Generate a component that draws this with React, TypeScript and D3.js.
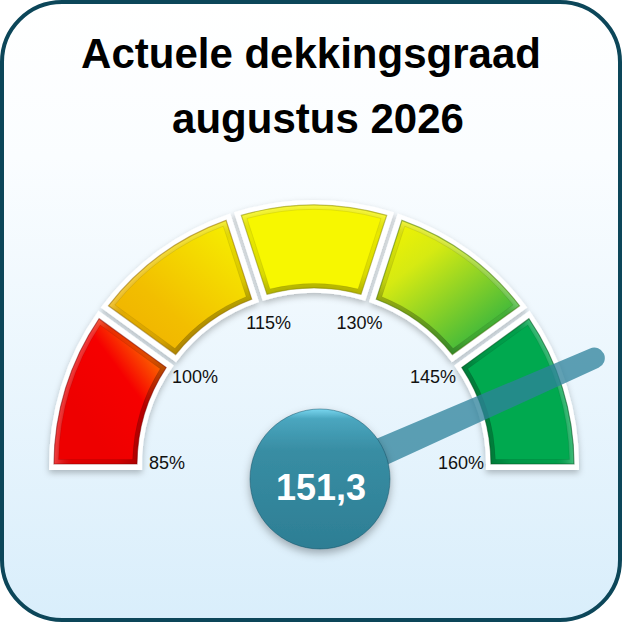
import React from "react";
import * as d3 from "d3";

const titleLines = ["Actuele dekkingsgraad", "augustus 2026"];
const bandBreaks = [85, 100, 115, 130, 145, 160];
const tickLabels = ["85%", "100%", "115%", "130%", "145%", "160%"];
const currentValue = 151.3;

const W = 622;
const H = 622;
const cx = 314;
const cy = 465;
const rOuter = 260;
const rInner = 177;
const halfGap = 8;
const border = 5;
const bevel = 4.5;
const pivot: [number, number] = [320, 479];
const knobR = 70;

const angle = d3.scaleLinear().domain([bandBreaks[0], bandBreaks[bandBreaks.length - 1]]).range([Math.PI, 0]);
const nl = d3.formatLocale({ decimal: ",", thousands: ".", grouping: [3], currency: ["€", ""] });
const fmt = nl.format(".1f");

function pt(r: number, a: number): [number, number] {
  return [cx + r * Math.cos(a), cy - r * Math.sin(a)];
}

function segPath(a0: number, a1: number, d0: number, d1: number, r0: number, r1: number) {
  const o0 = a0 - Math.asin(d0 / r1);
  const o1 = a1 + Math.asin(d1 / r1);
  const i0 = a0 - Math.asin(d0 / r0);
  const i1 = a1 + Math.asin(d1 / r0);
  const p = d3.path();
  const s = pt(r1, o0);
  p.moveTo(s[0], s[1]);
  p.arc(cx, cy, r1, -o0, -o1, false);
  const q = pt(r0, i1);
  p.lineTo(q[0], q[1]);
  p.arc(cx, cy, r0, -i1, -i0, true);
  p.closePath();
  return p.toString();
}

const fills = ["url(#g0)", "url(#g1)", "#f7f700", "url(#g3)", "#00a94f"];
const edgeStroke = ["rgba(120,0,0,0.5)", "rgba(140,100,0,0.5)", "rgba(130,130,0,0.5)", "rgba(60,110,0,0.5)", "rgba(0,80,30,0.55)"];

export default function App() {
  const segs = d3.range(bandBreaks.length - 1).map((i) => {
    const a0 = angle(bandBreaks[i]);
    const a1 = angle(bandBreaks[i + 1]);
    const d0 = i === 0 ? 1 : halfGap;
    const d1 = i === bandBreaks.length - 2 ? 1 : halfGap;
    const color = segPath(a0, a1, d0, d1, rInner, rOuter);
    const inset = segPath(a0, a1, d0 + bevel, d1 + bevel, rInner + bevel, rOuter - bevel);
    return {
      white: segPath(a0, a1, d0 - border - 1, d1 - border - 1, rInner - border, rOuter + border),
      color,
      inset,
      frame: color + inset,
    };
  });

  const va = angle(currentValue);
  const tip = pt(300, va);
  const dx = tip[0] - pivot[0];
  const dy = tip[1] - pivot[1];
  const len = Math.hypot(dx, dy);
  const ux = dx / len;
  const uy = dy / len;
  const nx = -uy;
  const ny = ux;
  const wb = 15;
  const wt = 10.5;
  const needle =
    `M${pivot[0] + nx * wb},${pivot[1] + ny * wb}` +
    `L${tip[0] + nx * wt},${tip[1] + ny * wt}` +
    `A${wt},${wt} 0 0 0 ${tip[0] - nx * wt},${tip[1] - ny * wt}` +
    `L${pivot[0] - nx * wb},${pivot[1] - ny * wb}Z`;

  const titleX = [311, 318];

  return (
    <div>
      <style>{`body{margin:0}`}</style>
      <svg width={W} height={H} viewBox={`0 0 ${W} ${H}`} style={{ display: "block" }}>
        <defs>
          <linearGradient id="bg" x1="0" y1="0" x2="0" y2="1">
            <stop offset="0" stopColor="#ffffff" />
            <stop offset="0.25" stopColor="#fafdff" />
            <stop offset="1" stopColor="#d9eefb" />
          </linearGradient>
          <linearGradient id="g0" gradientUnits="userSpaceOnUse" x1="75" y1="410" x2="170" y2="340">
            <stop offset="0" stopColor="#ee0000" />
            <stop offset="0.5" stopColor="#f60000" />
            <stop offset="1" stopColor="#ffa200" />
          </linearGradient>
          <linearGradient id="g1" gradientUnits="userSpaceOnUse" x1="120" y1="370" x2="245" y2="225">
            <stop offset="0" stopColor="#efac00" />
            <stop offset="0.4" stopColor="#f2be00" />
            <stop offset="1" stopColor="#f6f200" />
          </linearGradient>
          <linearGradient id="g3" gradientUnits="userSpaceOnUse" x1="395" y1="215" x2="500" y2="350">
            <stop offset="0" stopColor="#f4f400" />
            <stop offset="0.3" stopColor="#d6ea12" />
            <stop offset="1" stopColor="#1fae44" />
          </linearGradient>
          <radialGradient id="bev" gradientUnits="userSpaceOnUse" cx={cx} cy={cy} r={rOuter}>
            <stop offset={String(rInner / rOuter)} stopColor="#000" stopOpacity="0.28" />
            <stop offset={String((rInner + 20) / rOuter)} stopColor="#000" stopOpacity="0.12" />
            <stop offset={String((rOuter - 20) / rOuter)} stopColor="#000" stopOpacity="0.06" />
            <stop offset="1" stopColor="#fff" stopOpacity="0.25" />
          </radialGradient>
          <linearGradient id="knob" x1="0" y1="0" x2="0" y2="1">
            <stop offset="0" stopColor="#78d6ef" />
            <stop offset="0.07" stopColor="#4aa6bf" />
            <stop offset="0.3" stopColor="#388da3" />
            <stop offset="1" stopColor="#2d7e94" />
          </linearGradient>
          <filter id="shadow" x="-20%" y="-20%" width="140%" height="150%">
            <feDropShadow dx="0" dy="3" stdDeviation="3" floodColor="#000" floodOpacity="0.25" />
          </filter>
          <filter id="kshadow" x="-30%" y="-30%" width="160%" height="170%">
            <feDropShadow dx="0" dy="4" stdDeviation="4" floodColor="#000" floodOpacity="0.3" />
          </filter>
        </defs>

        <rect x={2} y={2} width={W - 4} height={H - 4} rx={60} ry={60} fill="url(#bg)" stroke="#0c4659" strokeWidth={4} />

        {titleLines.map((t, i) => (
          <text
            key={t}
            x={titleX[i]}
            y={68 + i * 65}
            textAnchor="middle"
            fontFamily="'Liberation Sans', Arial, sans-serif"
            fontWeight="bold"
            fontSize={42}
            fill="#000"
          >
            {t}
          </text>
        ))}

        <g filter="url(#shadow)">
          {segs.map((s, i) => (
            <path key={"w" + i} d={s.white} fill="#ffffff" />
          ))}
        </g>
        {segs.map((s, i) => (
          <g key={"c" + i}>
            <path d={s.color} fill={fills[i]} />
            <path d={s.frame} fill="url(#bev)" fillRule="evenodd" />
            <path d={s.inset} fill="none" stroke="rgba(0,0,0,0.08)" strokeWidth={1} />
            <path d={s.color} fill="none" stroke={edgeStroke[i]} strokeWidth={1.2} />
          </g>
        ))}

        {tickLabels.map((t, i) => {
          const p = pt(147, angle(bandBreaks[i]));
          return (
            <text
              key={t}
              x={p[0]}
              y={p[1] - 2}
              textAnchor="middle"
              dominantBaseline="central"
              fontFamily="'Liberation Sans', Arial, sans-serif"
              fontSize={18}
              fill="#111"
            >
              {t}
            </text>
          );
        })}

        <path d={needle} fill="rgba(46,130,155,0.76)" />

        <circle cx={pivot[0]} cy={pivot[1]} r={knobR} fill="url(#knob)" stroke="rgba(20,70,90,0.45)" strokeWidth={1} filter="url(#kshadow)" />
        <text
          x={pivot[0] + 1}
          y={pivot[1] + 21}
          textAnchor="middle"
          fontFamily="'Liberation Sans', Arial, sans-serif"
          fontWeight="bold"
          fontSize={36}
          fill="#ffffff"
        >
          {fmt(currentValue)}
        </text>
      </svg>
    </div>
  );
}
